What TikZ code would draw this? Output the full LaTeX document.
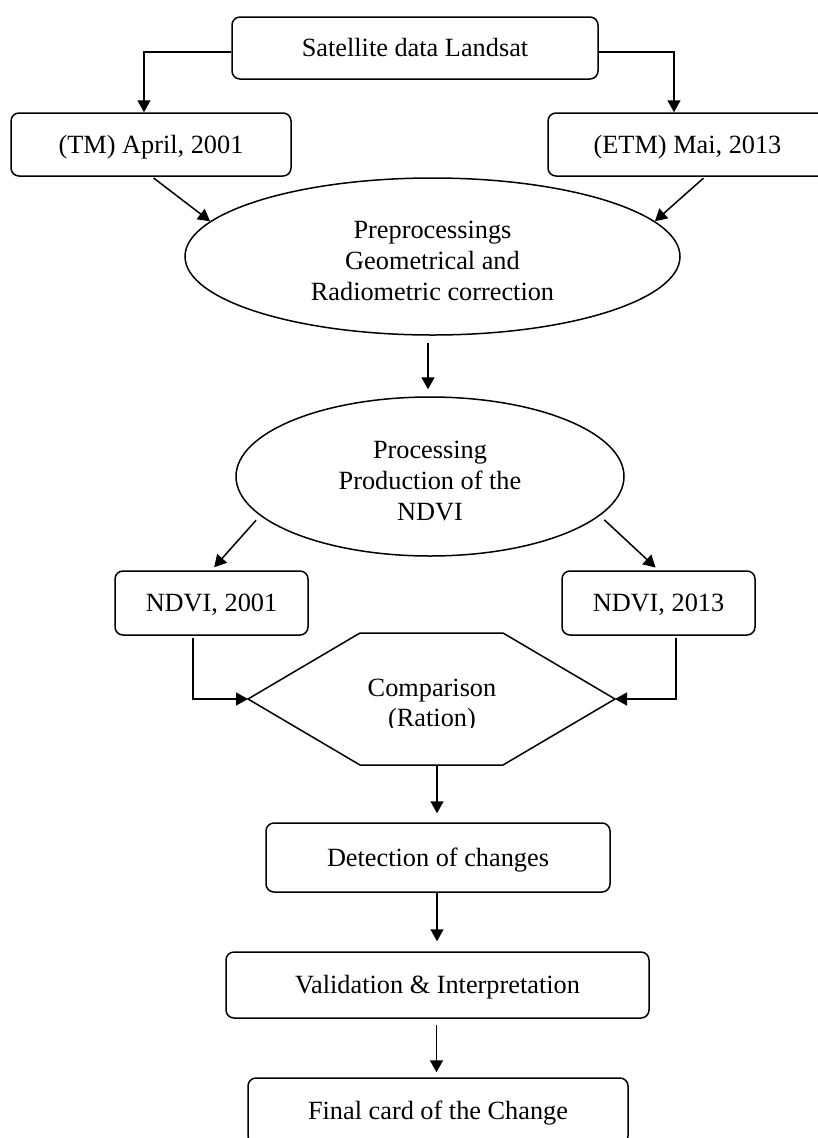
\documentclass[tikz,border=0pt]{standalone}
\usepackage{fontspec}
\setmainfont{Liberation Serif}
\usetikzlibrary{shapes.geometric,arrows.meta,calc}
\begin{document}
\begin{tikzpicture}[x=1pt,y=-1pt,
  line/.style={line width=1.5pt},
  arr/.style={line width=1.5pt, -{Triangle[length=12pt,width=13pt]}},
  txt/.style={font=\fontsize{26.3}{30}\selectfont},
  otxt/.style={font=\fontsize{26.3}{31}\selectfont},
  rbox/.style={draw, line width=1.5pt, rounded corners=8pt, inner sep=0pt, text height=23.7pt, text depth=6pt, txt},
  oval/.style={draw, ellipse, line width=1.5pt, inner sep=0pt},
  plain/.style={inner sep=0pt, align=center, txt},
  otext/.style={inner sep=0pt, align=center, otxt}]
\useasboundingbox (0,0) rectangle (817,1138);

% boxes
\node[rbox, minimum width=366pt, minimum height=62pt] (top) at (415,48) {Satellite data Landsat};
\node[rbox, minimum width=280pt, minimum height=63pt] (tm) at (151,144.5) {(TM) April, 2001};
\node[rbox, minimum width=279pt, minimum height=63pt] (etm) at (687.5,144.5) {(ETM) Mai, 2013};
\node[oval, minimum width=495pt, minimum height=157pt] (e1) at (432.5,256.5) {};
\node[otext] (e1t) at (432.5,261) {Preprocessings\\Geometrical and\\Radiometric correction};
\node[oval, minimum width=388pt, minimum height=159pt] (e2) at (430,476.5) {};
\node[otext] (e2t) at (430,481) {Processing\\Production of the\\NDVI};
\node[rbox, minimum width=193pt, minimum height=64pt] (n01) at (211.5,603) {NDVI, 2001};
\node[rbox, minimum width=193pt, minimum height=64pt] (n13) at (658.5,603) {NDVI, 2013};

% hexagon
\coordinate (hxL) at (248,699);
\coordinate (hxR) at (615,699);
\coordinate (hxB) at (437,765);
\draw[line, line join=miter] (hxL) -- (360,633) -- (503,633) -- (hxR) -- (503,765) -- (360,765) -- cycle;
\begin{scope}
  \clip (300,600) rectangle (560,727);
  \node[plain] (cmp) at (432,706) {Comparison\\(Ration)};
\end{scope}

\node[rbox, minimum width=344pt, minimum height=69pt] (det) at (438,857.5) {Detection of changes};
\node[rbox, minimum width=423pt, minimum height=66pt] (val) at (437.5,985) {Validation \& Interpretation};
\node[rbox, minimum width=380pt, minimum height=66pt] (fin) at (438,1111) {Final card of the Change};

% connectors
\draw[arr] ($(top.west)+(0,4)$) -| ($(tm.north)+(-7,0)$);
\draw[arr] ($(top.east)+(0,4)$) -| ($(etm.north)+(-13.5,0)$);
\draw[arr, shorten <=2pt] ($(tm.south)+(1,0)$) -- (e1.171);
\draw[arr, shorten <=2pt] ($(etm.south)+(17.5,0)$) -- (e1.9);
\draw[arr, shorten <=7pt, shorten >=7pt] ($(e1.south)+(-4.5,0)$) -- ($(e2.north)+(-2,0)$);
\draw[arr, shorten <=6pt, shorten >=4pt] (e2.193.6) -- (n01.north);
\draw[arr, shorten <=6pt, shorten >=4pt] (e2.347) -- (n13.north);
\draw[arr, shorten <=2pt] ($(n01.south)+(-18.5,0)$) |- (hxL);
\draw[arr, shorten <=2pt] ($(n13.south)+(17.5,0)$) |- (hxR);
\draw[arr, shorten >=9pt] (hxB) -- (hxB |- det.north);
\draw[arr, shorten >=10pt] ($(det.south)+(-1,0)$) -- ($(val.north)+(-0.5,0)$);
\draw[arr, shorten <=6pt, shorten >=5pt] ($(val.south)+(-1,0)$) -- ($(fin.north)+(-1.5,0)$);
\end{tikzpicture}
\end{document}
